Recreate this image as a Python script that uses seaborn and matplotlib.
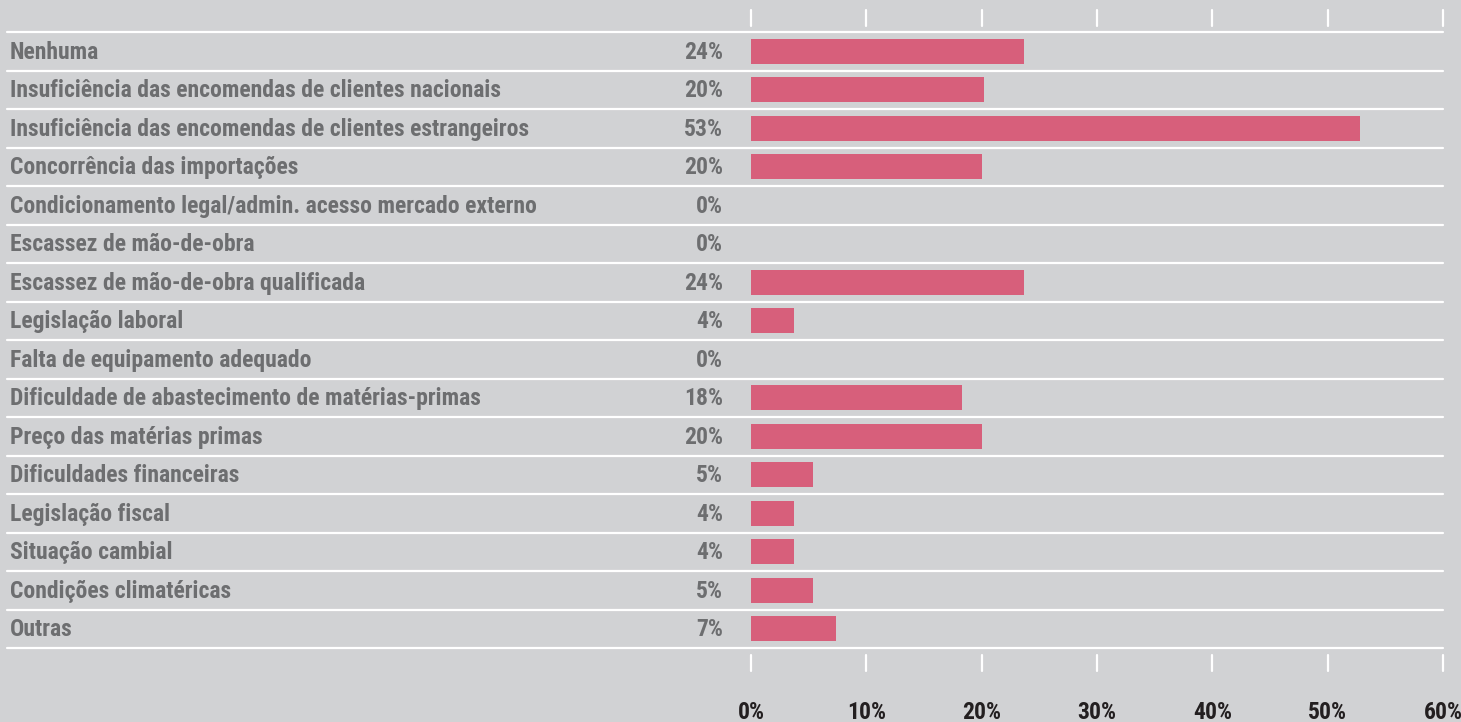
import matplotlib
matplotlib.use("Agg")
import matplotlib.pyplot as plt
import matplotlib.transforms as mtransforms
import pandas as pd
import seaborn as sns

# %%
categorias = [
    "Nenhuma",
    "Insuficiência das encomendas de clientes nacionais",
    "Insuficiência das encomendas de clientes estrangeiros",
    "Concorrência das importações",
    "Condicionamento legal/admin. acesso mercado externo",
    "Escassez de mão-de-obra",
    "Escassez de mão-de-obra qualificada",
    "Legislação laboral",
    "Falta de equipamento adequado",
    "Dificuldade de abastecimento de matérias-primas",
    "Preço das matérias primas",
    "Dificuldades financeiras",
    "Legislação fiscal",
    "Situação cambial",
    "Condições climatéricas",
    "Outras",
]
valores = [23.7, 20.2, 52.8, 20.0, 0, 0, 23.7, 3.7, 0, 18.3, 20.0, 5.4, 3.7, 3.7, 5.4, 7.4]
ticks = [0, 10, 20, 30, 40, 50, 60]
tick_labels = [f"{t}%" for t in ticks]

df = pd.DataFrame({"categoria": categorias, "valor": valores})

# %%
BG = "#d1d2d4"
ROSA = "#d75f7b"
CINZA = "#6d6e70"
ESCURO = "#231f20"
FONTE = ["Roboto Condensed", "Liberation Sans Narrow", "Liberation Sans", "DejaVu Sans"]

sns.set_theme(style="white")
plt.rcParams["font.family"] = FONTE
plt.rcParams["font.weight"] = "bold"

W, H = 1461, 722
fig = plt.figure(figsize=(W / 100, H / 100), dpi=100, facecolor=BG)

# axes span from the left edge of the rule lines to the 60% tick
x_left, x0, x60 = 7, 751, 1443
y_top, y_bot = 32, 648
ax = fig.add_axes([x_left / W, (H - y_bot) / H, (x60 - x_left) / W, (y_bot - y_top) / H])
ax.set_facecolor(BG)

px_por_unidade = (x60 - x0) / 60
xmin = -(x0 - x_left) / px_por_unidade

sns.barplot(data=df, y="categoria", x="valor", orient="h", color=ROSA,
            width=0.65, saturation=1, linewidth=0, ax=ax, zorder=3)

n = len(categorias)
ax.set_xlim(xmin, 60)
ax.set_ylim(n - 0.5, -0.5)

for y in [i - 0.5 for i in range(n + 1)]:
    ax.axhline(y, color="white", linewidth=1.6, zorder=2, clip_on=False)

# white tick marks above and below
trans = mtransforms.blended_transform_factory(ax.transData, ax.transAxes)
h_ax = y_bot - y_top
for t in ticks:
    ax.plot([t, t], [1 + 6 / h_ax, 1 + 22 / h_ax], color="white", lw=1.6,
            transform=trans, clip_on=False)
    ax.plot([t, t], [-7 / h_ax, -23 / h_ax], color="white", lw=1.6,
            transform=trans, clip_on=False)

# category and value labels
FS = 17
trans_y = mtransforms.blended_transform_factory(ax.transAxes, ax.transData)
for i, (cat, val) in enumerate(zip(categorias, valores)):
    ax.text(3 / (x60 - x_left), i + 0.02, cat, transform=trans_y, ha="left", va="center",
            color=CINZA, fontsize=FS, fontweight="bold", family=FONTE)
    ax.text(-28 / px_por_unidade, i + 0.02, f"{val:.0f}%", ha="right", va="center",
            color=CINZA, fontsize=FS, fontweight="bold", family=FONTE)

ax.set_xticks(ticks)
ax.set_xticklabels(tick_labels, color=ESCURO, fontsize=FS, fontweight="bold", family=FONTE)
ax.tick_params(axis="x", length=0, pad=38)
ax.set_yticks([])
ax.set_xlabel("")
ax.set_ylabel("")
sns.despine(ax=ax, left=True, bottom=True)

fig.savefig("out.png", dpi=100, facecolor=BG)
